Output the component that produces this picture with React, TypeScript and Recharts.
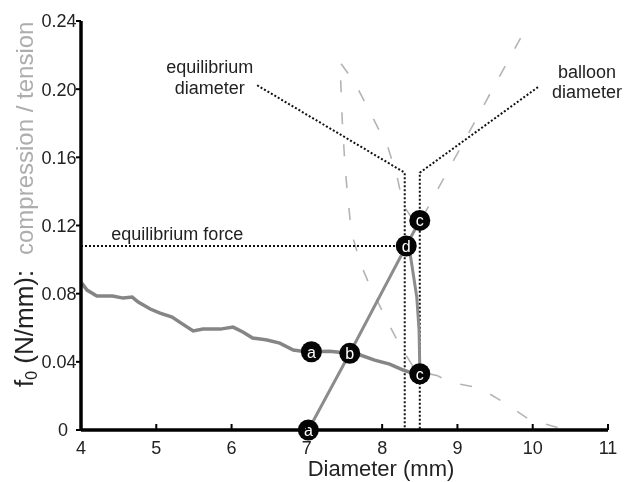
import React from 'react';
import { ComposedChart, Line, Scatter, XAxis, YAxis } from 'recharts';

const xTicks = [4, 5, 6, 7, 8, 9, 10, 11];
const yTicks = [0, 0.04, 0.08, 0.12, 0.16, 0.2, 0.24];

// wiggly compression curve a -> b -> c
const compressionCurve = [
  { x: 4.01, y: 0.0862 }, { x: 4.08, y: 0.0821 }, { x: 4.21, y: 0.0786 }, { x: 4.42, y: 0.0786 },
  { x: 4.56, y: 0.0774 }, { x: 4.68, y: 0.078 }, { x: 4.76, y: 0.0751 }, { x: 4.92, y: 0.071 },
  { x: 5.05, y: 0.0686 }, { x: 5.21, y: 0.0663 }, { x: 5.31, y: 0.0633 }, { x: 5.49, y: 0.0581 },
  { x: 5.62, y: 0.0592 }, { x: 5.85, y: 0.0592 }, { x: 6.02, y: 0.0604 }, { x: 6.15, y: 0.0575 },
  { x: 6.28, y: 0.054 }, { x: 6.47, y: 0.0528 }, { x: 6.64, y: 0.051 }, { x: 6.82, y: 0.0469 },
  { x: 6.94, y: 0.0462 }, { x: 7.06, y: 0.0459 }, { x: 7.3, y: 0.0462 }, { x: 7.57, y: 0.045 },
  { x: 7.71, y: 0.044 }, { x: 7.9, y: 0.041 }, { x: 8.1, y: 0.0387 }, { x: 8.28, y: 0.0352 },
  { x: 8.4, y: 0.0334 }, { x: 8.5, y: 0.033 },
];

// loading path a -> b -> d -> c
const loadingPath = [
  { x: 7.02, y: 0 }, { x: 7.57, y: 0.045 }, { x: 8.32, y: 0.108 }, { x: 8.5, y: 0.123 },
];

// unloading path d -> c
const unloadingPath = [
  { x: 8.32, y: 0.108 }, { x: 8.37, y: 0.104 }, { x: 8.46, y: 0.078 }, { x: 8.49, y: 0.0587 },
  { x: 8.5, y: 0.037 }, { x: 8.5, y: 0.033 },
];

// light dashed compression / tension curve
const tensionCurve = [
  { x: 10.33, y: 0.0015 }, { x: 9.96, y: 0.006 }, { x: 9.63, y: 0.0158 }, { x: 9.3, y: 0.0246 },
  { x: 8.9, y: 0.028 }, { x: 8.73, y: 0.032 }, { x: 8.5, y: 0.034 }, { x: 8.4, y: 0.0381 },
  { x: 8.24, y: 0.0493 }, { x: 8.04, y: 0.0663 }, { x: 7.85, y: 0.0833 }, { x: 7.72, y: 0.0968 },
  { x: 7.59, y: 0.1161 }, { x: 7.51, y: 0.1525 }, { x: 7.47, y: 0.1818 }, { x: 7.44, y: 0.2158 },
  { x: 7.64, y: 0.2035 }, { x: 7.88, y: 0.183 }, { x: 8.08, y: 0.1654 }, { x: 8.2, y: 0.1484 },
  { x: 8.28, y: 0.132 }, { x: 8.47, y: 0.1195 }, { x: 9.95, y: 0.239 },
];

const eqForceLine = [{ x: 4, y: 0.108 }, { x: 8.32, y: 0.108 }];
const eqDiameterLine = [{ x: 6.34, y: 0.2023 }, { x: 8.3, y: 0.151 }, { x: 8.3, y: 0 }];
const balloonDiameterLine = [{ x: 10.07, y: 0.2012 }, { x: 8.5, y: 0.151 }, { x: 8.5, y: 0 }];

const markers = [
  { x: 7.06, y: 0.0459, label: 'a' },
  { x: 7.57, y: 0.045, label: 'b' },
  { x: 8.5, y: 0.033, label: 'c' },
  { x: 8.32, y: 0.108, label: 'd' },
  { x: 8.5, y: 0.123, label: 'c' },
  { x: 7.02, y: 0, label: 'a' },
];

const annotations = [
  { x: 5.71, y: 0.2135, text: 'equilibrium' },
  { x: 5.71, y: 0.2009, text: 'diameter' },
  { x: 10.72, y: 0.2105, text: 'balloon' },
  { x: 10.72, y: 0.1984, text: 'diameter' },
  { x: 5.28, y: 0.1152, text: 'equilibrium force' },
];

const FONT = '"Liberation Sans", Arial, Helvetica, sans-serif';

const Marker = (props: any) => {
  const { cx, cy, payload } = props;
  return (
    <g>
      <circle cx={cx} cy={cy} r={10.5} fill="#050505" />
      <text x={cx} y={cy} dy="0.36em" textAnchor="middle" fill="#fff" fontSize={16} fontFamily={FONT}>
        {payload.label}
      </text>
    </g>
  );
};

const Note = (props: any) => {
  const { cx, cy, payload } = props;
  return (
    <text x={cx} y={cy} dy="0.36em" textAnchor="middle" fill="#222" fontSize={18} fontFamily={FONT}>
      {payload.text}
    </text>
  );
};

const X_TICK_MARGIN = 11;

const XTick = (props: any) => {
  const { x, y, payload } = props;
  const axisY = y - X_TICK_MARGIN;
  return (
    <g>
      {payload.value !== 4 && (
        <line x1={x} x2={x} y1={axisY} y2={axisY - 6} stroke="#000" strokeWidth={2} />
      )}
      <text x={x} y={y} dy="0.71em" textAnchor="middle" fill="#222" fontSize={18} fontFamily={FONT}>
        {payload.value}
      </text>
    </g>
  );
};

const YTick = (props: any) => {
  const { x, y, payload } = props;
  const v = payload.value;
  const label = v === 0 ? '0' : v.toFixed(2);
  return (
    <text x={v === 0 ? x - 13 : x - 17} y={y} dy="0.36em" textAnchor="middle" fill="#222" fontSize={18} fontFamily={FONT}>
      {label}
    </text>
  );
};

const YLabel = (props: any) => {
  const vb = props.viewBox || { x: 0, y: 13 };
  const bx = vb.x + 25;
  return (
    <g>
      <g transform={`translate(${bx},${vb.y + 366}) rotate(-90)`}>
        <text x={0} y={0} fill="#222" fontSize={26} fontFamily={FONT}>
          f<tspan fontSize={16} dy={4}>0</tspan>
          <tspan dy={-4}> (N/mm):</tspan>
        </text>
      </g>
      <g transform={`translate(${bx},${vb.y + 234}) rotate(-90)`}>
        <text x={0} y={0} fill="#adadad" fontSize={24} fontFamily={FONT}>
          compression / tension
        </text>
      </g>
    </g>
  );
};

const XLabel = (props: any) => {
  const vb = props.viewBox || { x: 73, y: 422 };
  return (
    <text x={vb.x + 300} y={vb.y + 46} textAnchor="middle" fill="#222" fontSize={22} fontFamily={FONT}>
      Diameter (mm)
    </text>
  );
};

export default function App() {
  return (
    <div style={{ fontFamily: FONT, width: 618, height: 474, position: 'fixed', left: 8, top: 8 }}>
      <ComposedChart width={618} height={474} margin={{ top: 13, right: 18, bottom: 0, left: 0 }}>
        <XAxis
          type="number"
          dataKey="x"
          domain={[4, 11]}
          ticks={xTicks}
          height={52}
          tickSize={0}
          tickMargin={X_TICK_MARGIN}
          tickLine={false}
          tick={<XTick />}
          axisLine={{ stroke: '#000', strokeWidth: 3.5 }}
          label={<XLabel />}
          interval={0}
        />
        <YAxis
          type="number"
          dataKey="y"
          domain={[0, 0.24]}
          ticks={yTicks}
          width={73}
          tickSize={5}
          tickMargin={0}
          tickLine={{ stroke: '#000', strokeWidth: 2 }}
          tick={<YTick />}
          axisLine={{ stroke: '#000', strokeWidth: 3.5 }}
          label={<YLabel />}
          interval={0}
        />
        <Line data={tensionCurve} dataKey="y" type="linear" stroke="#b4b4b4" strokeWidth={1.6}
          strokeDasharray="12 20" dot={false} activeDot={false} isAnimationActive={false} />
        <Line data={eqForceLine} dataKey="y" type="linear" stroke="#111" strokeWidth={2}
          strokeDasharray="2 2" dot={false} activeDot={false} isAnimationActive={false} />
        <Line data={eqDiameterLine} dataKey="y" type="linear" stroke="#111" strokeWidth={2}
          strokeDasharray="2 2" dot={false} activeDot={false} isAnimationActive={false} />
        <Line data={balloonDiameterLine} dataKey="y" type="linear" stroke="#111" strokeWidth={2}
          strokeDasharray="2 2" dot={false} activeDot={false} isAnimationActive={false} />
        <Line data={compressionCurve} dataKey="y" type="linear" stroke="#858585" strokeWidth={3.5}
          dot={false} activeDot={false} isAnimationActive={false} />
        <Line data={loadingPath} dataKey="y" type="linear" stroke="#8c8c8c" strokeWidth={3}
          dot={false} activeDot={false} isAnimationActive={false} />
        <Line data={unloadingPath} dataKey="y" type="linear" stroke="#8c8c8c" strokeWidth={3}
          dot={false} activeDot={false} isAnimationActive={false} />
        <Scatter data={markers} dataKey="y" shape={<Marker />} isAnimationActive={false} />
        <Scatter data={annotations} dataKey="y" shape={<Note />} isAnimationActive={false} />
      </ComposedChart>
    </div>
  );
}
